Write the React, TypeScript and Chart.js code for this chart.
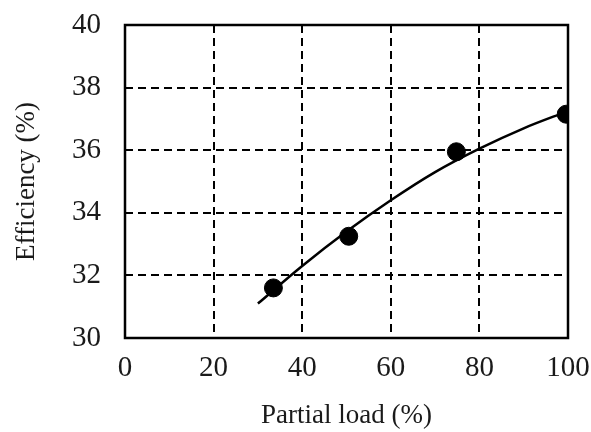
import React, { useEffect, useRef } from "react";
import { Chart, registerables } from "chart.js";

Chart.register(...registerables);

const measuredLoad = [33.5, 50.5, 74.8, 99.6];
const measuredEff = [31.6, 33.25, 35.95, 37.15];
const fitLoad = [30, 40, 50, 60, 70, 80, 90, 100];
const fitEff = [31.1, 32.3, 33.4, 34.4, 35.3, 36.05, 36.7, 37.25];
const xTicks = [0, 20, 40, 60, 80, 100];
const yTicks = [30, 32, 34, 36, 38, 40];

const FONT = "'Liberation Serif', 'Times New Roman', serif";
const TEXT = "#1a1a1a";

const framePlugin = {
  id: "frame",
  afterDraw(chart: any) {
    const { ctx, chartArea } = chart;
    ctx.save();
    ctx.strokeStyle = "#000";
    ctx.lineWidth = 2.5;
    ctx.setLineDash([]);
    ctx.strokeRect(chartArea.left, chartArea.top, chartArea.right - chartArea.left, chartArea.bottom - chartArea.top);
    ctx.restore();
  },
};

export default function App() {
  const ref = useRef<HTMLCanvasElement | null>(null);
  useEffect(() => {
    if (!ref.current) return;
    const chart = new Chart(ref.current, {
      type: "scatter",
      data: {
        datasets: [
          {
            label: "fit",
            data: fitLoad.map((x, i) => ({ x, y: fitEff[i] })),
            showLine: true,
            borderColor: "#000",
            borderWidth: 2.5,
            pointRadius: 0,
            cubicInterpolationMode: "monotone",
            order: 2,
          } as any,
          {
            label: "measured",
            data: measuredLoad.map((x, i) => ({ x, y: measuredEff[i] })),
            showLine: false,
            backgroundColor: "#000",
            borderColor: "#000",
            pointRadius: 9,
            order: 1,
          },
        ],
      },
      options: {
        animation: false,
        responsive: false,
        layout: { padding: { top: 25, right: 23, left: 0, bottom: 0 } },
        plugins: { legend: { display: false }, tooltip: { enabled: false } },
        scales: {
          x: {
            type: "linear",
            min: 0,
            max: 100,
            afterBuildTicks: (s: any) => {
              s.ticks = xTicks.map((v) => ({ value: v }));
            },
            afterFit: (s: any) => {
              s.height = 94;
              s.paddingLeft = 0;
              s.paddingRight = 0;
            },
            grid: {
              color: (c: any) => (c.tick && (c.tick.value === 0 || c.tick.value === 100) ? "rgba(0,0,0,0)" : "#000"),
              lineWidth: 2,
              drawTicks: false,
            },
            border: { display: false, dash: [8, 5] },
            ticks: { color: TEXT, font: { family: FONT, size: 29 }, padding: 13, maxRotation: 0 },
            title: {
              display: true,
              text: "Partial load (%)",
              color: TEXT,
              font: { family: FONT, size: 27 },
              padding: { top: 0, bottom: 0 },
            },
          },
          y: {
            type: "linear",
            min: 30,
            max: 40,
            afterBuildTicks: (s: any) => {
              s.ticks = yTicks.map((v) => ({ value: v }));
            },
            afterFit: (s: any) => {
              s.width = 125;
              s.paddingTop = 0;
              s.paddingBottom = 0;
            },
            grid: {
              color: (c: any) => (c.tick && (c.tick.value === 30 || c.tick.value === 40) ? "rgba(0,0,0,0)" : "#000"),
              lineWidth: 2,
              drawTicks: false,
            },
            border: { display: false, dash: [8, 5] },
            ticks: { color: TEXT, font: { family: FONT, size: 29 }, padding: 24 },
            title: {
              display: true,
              text: "Efficiency (%)",
              color: TEXT,
              font: { family: FONT, size: 27 },
              padding: { top: 11, bottom: 0 },
            },
          },
        },
      },
      plugins: [framePlugin],
    });
    return () => chart.destroy();
  }, []);
  return (
    <div style={{ position: "absolute", left: 0, top: 0, width: 591, height: 432, background: "#fff" }}>
      <canvas ref={ref} width={591} height={432} />
    </div>
  );
}
